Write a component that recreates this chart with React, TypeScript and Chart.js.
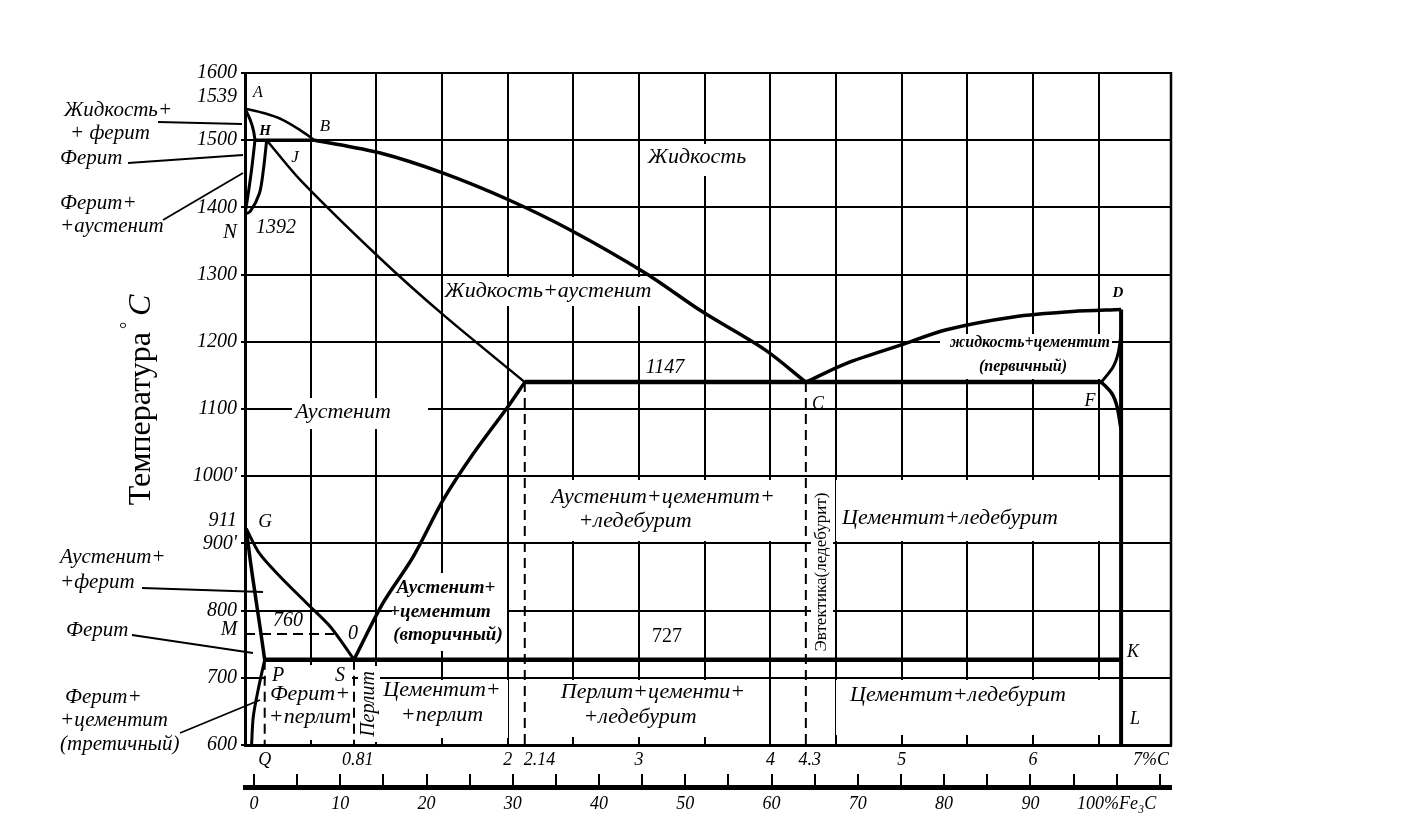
import React, { useEffect, useRef } from 'react';
import { Chart, registerables } from 'chart.js';

Chart.register(...registerables);

const SERIF = "'Liberation Serif', 'DejaVu Serif', 'Times New Roman', serif";

// ---------------- data: x = %C, y = °C ----------------
const liquidusAB = [{ x: 0, y: 1547 }, { x: 0.15, y: 1540 }, { x: 0.29, y: 1530 }, { x: 0.42, y: 1515 }, { x: 0.53, y: 1500 }];
const liquidusBC = [{ x: 0.53, y: 1500 }, { x: 1.03, y: 1481 }, { x: 1.51, y: 1451 }, { x: 2.01, y: 1411 }, { x: 2.48, y: 1366 }, { x: 3.05, y: 1302 }, { x: 3.48, y: 1245 }, { x: 3.96, y: 1188 }, { x: 4.27, y: 1140 }];
const liquidusCD = [{ x: 4.27, y: 1140 }, { x: 4.58, y: 1168 }, { x: 4.99, y: 1195 }, { x: 5.34, y: 1218 }, { x: 5.85, y: 1237 }, { x: 6.3, y: 1245 }, { x: 6.67, y: 1248 }];
const solidusAH = [{ x: 0, y: 1547 }, { x: 0.04, y: 1530 }, { x: 0.065, y: 1514 }, { x: 0.076, y: 1500 }];
const boundaryHN = [{ x: 0.076, y: 1500 }, { x: 0.05, y: 1456 }, { x: 0.025, y: 1421 }, { x: 0, y: 1390 }];
const boundaryJN = [{ x: 0.165, y: 1500 }, { x: 0.14, y: 1456 }, { x: 0.11, y: 1421 }, { x: 0.04, y: 1394 }, { x: 0, y: 1390 }];
const peritecticHJB = [{ x: 0.076, y: 1500 }, { x: 0.53, y: 1500 }];
const solidusJE = [{ x: 0.165, y: 1500 }, { x: 0.42, y: 1441 }, { x: 1.03, y: 1324 }, { x: 1.51, y: 1240 }, { x: 2.13, y: 1140 }];
const eutecticECF = [{ x: 2.13, y: 1140 }, { x: 6.52, y: 1140 }];
const curveFD = [{ x: 6.52, y: 1140 }, { x: 6.61, y: 1163 }, { x: 6.65, y: 1185 }, { x: 6.67, y: 1215 }];
const curveFdown = [{ x: 6.52, y: 1140 }, { x: 6.6, y: 1123 }, { x: 6.64, y: 1103 }, { x: 6.67, y: 1069 }];
const cementiteDL = [{ x: 6.67, y: 1248 }, { x: 6.67, y: 600 }];
const lineGS = [{ x: 0.01, y: 922 }, { x: 0.11, y: 885 }, { x: 0.27, y: 850 }, { x: 0.47, y: 811 }, { x: 0.65, y: 776 }, { x: 0.83, y: 727 }];
const lineGP = [{ x: 0.01, y: 922 }, { x: 0.04, y: 875 }, { x: 0.076, y: 826 }, { x: 0.114, y: 776 }, { x: 0.15, y: 727 }];
const linePQ = [{ x: 0.15, y: 727 }, { x: 0.1, y: 682 }, { x: 0.063, y: 642 }, { x: 0.05, y: 600 }];
const lineSE = [{ x: 0.83, y: 727 }, { x: 1.05, y: 811 }, { x: 1.28, y: 880 }, { x: 1.51, y: 965 }, { x: 1.74, y: 1034 }, { x: 2.0, y: 1103 }, { x: 2.13, y: 1140 }];
const eutectoidPSK = [{ x: 0.15, y: 727 }, { x: 6.67, y: 727 }];
const curieMO = [{ x: 0, y: 765 }, { x: 0.68, y: 765 }];
const dropP = [{ x: 0.15, y: 727 }, { x: 0.15, y: 600 }];
const dropS = [{ x: 0.83, y: 727 }, { x: 0.83, y: 600 }];
const dropE = [{ x: 2.13, y: 1140 }, { x: 2.13, y: 600 }];
const dropC = [{ x: 4.27, y: 1140 }, { x: 4.27, y: 600 }];

// ---------------- axes ----------------
const xGridValues = [0.5, 1, 1.5, 2, 2.5, 3, 3.5, 4, 4.5, 5, 5.5, 6, 6.5];
const xLabelValues = [0.15, 0.81, 2, 2.14, 3, 4, 4.3, 5, 6, 7];
const xLabelTexts = ['Q', '\u2002\u20090.81', '2', '\u2002\u2002\u20022.14', '3', '4', '4.3', '5', '6', '7%C\u2002\u2002\u2002'];
const yGridValues = [600, 700, 800, 900, 1000, 1100, 1200, 1300, 1400, 1500, 1600];
const yLabelValues = [600, 700, 800, 900, 933, 1000, 1100, 1200, 1300, 1400, 1500, 1564, 1600];
const yLabelTexts = ['600', '700', '800', "900'", '911', "1000'", '1100', '1200', '1300', '1400', '1500', '1539', '1600'];
const fe3cTicks = [0, 5, 10, 15, 20, 25, 30, 35, 40, 45, 50, 55, 60, 65, 70, 75, 80, 85, 90, 95, 100, 105];
const fe3cLabelValues = [0, 10, 20, 30, 40, 50, 60, 70, 80, 90, 100];
const fe3cLabelTexts = ['0', '10', '20', '30', '40', '50', '60', '70', '80', '90', '100%Fe₃C'];
const X_MAX = 7.05;
const FE3C_MIN = -1.04;
const FE3C_MAX = 106.3;

// ---------------- annotation layout (reference pixel frame -> data units) ----------------
const R = (px: number, py: number) => ({ x: (px - 245) / 131.35, y: 1600 - (py - 73) / 0.672 });

type Line = { s: string; p: { x: number; y: number } };
type Label = { lines: Line[]; box?: [number, number, number, number]; font?: string; rot?: boolean; align?: CanvasTextAlign };
const L = (s: string, px: number, py: number): Line => ({ s, p: R(px, py) });
const it = (n: number) => `italic ${n}px ${SERIF}`;

const regionLabels: Label[] = [
  { lines: [L('Жидкость', 697, 157)], box: [644, 144, 754, 176] },
  { lines: [L('Жидкость+аустенит', 548, 291)], box: [445, 277, 653, 306] },
  { lines: [L('1147', 665, 368)], font: it(20) },
  { lines: [L('Аустенит', 343, 412)], box: [292, 398, 428, 429] },
  { lines: [L('Аустенит+цементит+', 663, 497), L('+ледебурит', 635, 521)], box: [530, 480, 790, 541] },
  { lines: [L('Эвтектика(ледебурит)', 822, 572)], box: [811, 487, 833, 658], rot: true, font: `17px ${SERIF}` },
  { lines: [L('Цементит+ледебурит', 950, 518)], box: [836, 480, 1101, 541] },
  { lines: [L('жидкость+цементит', 1030, 343), L('(первичный)', 1023, 367)], box: [940, 334, 1112, 379], font: `bold italic 16px ${SERIF}` },
  { lines: [L('Аустенит+', 446, 588), L('+цементит', 440, 612), L('(вторичный)', 448, 635)], box: [392, 573, 507, 651], font: `bold italic 19px ${SERIF}` },
  { lines: [L('727', 667, 637)], font: `20px ${SERIF}` },
  { lines: [L('Перлит+цементи+', 653, 692), L('+ледебурит', 640, 717)], box: [530, 680, 766, 737] },
  { lines: [L('Цементит+ледебурит', 958, 695)], box: [836, 680, 1101, 735] },
  { lines: [L('Цементит+', 442, 690), L('+перлит', 442, 715)], box: [384, 680, 508, 738] },
  { lines: [L('Перлит', 369, 704)], box: [358, 666, 380, 742], rot: true, font: it(20) },
  { lines: [L('Ферит+', 310, 694), L('+перлит', 310, 717)], box: [266, 665, 352, 740] },
];

const pointLabels: Label[] = [
  { lines: [L('A', 258, 93)], font: it(16) },
  { lines: [L('H', 265, 131)], font: `bold italic 15px ${SERIF}` },
  { lines: [L('B', 325, 127)], font: it(17) },
  { lines: [L('J', 295, 158)], font: it(17) },
  { lines: [L('N', 230, 232)], font: it(21) },
  { lines: [L('1392', 276, 228)], font: it(20) },
  { lines: [L('D', 1118, 293)], font: `bold italic 15px ${SERIF}` },
  { lines: [L('C', 818, 404)], font: it(18) },
  { lines: [L('F', 1090, 401)], font: it(18) },
  { lines: [L('K', 1133, 652)], font: it(18) },
  { lines: [L('L', 1135, 719)], font: it(18) },
  { lines: [L('G', 265, 522)], font: it(19) },
  { lines: [L('M', 229, 630)], font: it(20) },
  { lines: [L('760', 288, 621)], font: it(20) },
  { lines: [L('0', 353, 634)], font: it(20) },
  { lines: [L('P', 278, 676)], font: it(20) },
  { lines: [L('S', 340, 676)], font: it(20) },
];

const sideLabels: Label[] = [
  { lines: [L('Жидкость+', 64, 110), L('+ ферит', 70, 133)], align: 'left' },
  { lines: [L('Ферит', 60, 158)], align: 'left' },
  { lines: [L('Ферит+', 60, 203), L('+аустенит', 60, 226)], align: 'left' },
  { lines: [L('Аустенит+', 60, 557), L('+ферит', 60, 582)], align: 'left' },
  { lines: [L('Ферит', 66, 630)], align: 'left' },
  { lines: [L('Ферит+', 65, 697), L('+цементит', 60, 720), L('(третичный)', 60, 744)], align: 'left' },
];
const leaders = [
  [R(158, 122), R(242, 124)],
  [R(128, 163), R(243, 155)],
  [R(163, 220), R(243, 173)],
  [R(142, 588), R(263, 592)],
  [R(132, 635), R(253, 653)],
  [R(180, 733), R(260, 700)],
];

const near = (arr: number[], v: number) => arr.findIndex((a) => Math.abs(a - v) < 1e-6);

const annotate = {
  id: 'annotate',
  beforeDatasetsDraw(chart: any) {
    const { ctx, scales } = chart;
    const xs = scales.x, ys = scales.y;
    ctx.save();
    ctx.fillStyle = '#fff';
    regionLabels.forEach((lb) => {
      if (!lb.box) return;
      const a = R(lb.box[0], lb.box[1]);
      const b = R(lb.box[2], lb.box[3]);
      const x1 = xs.getPixelForValue(a.x), y1 = ys.getPixelForValue(a.y);
      const x2 = xs.getPixelForValue(b.x), y2 = ys.getPixelForValue(b.y);
      ctx.fillRect(x1, y1, x2 - x1, y2 - y1);
    });
    ctx.restore();
  },
  afterDraw(chart: any) {
    const { ctx, scales, chartArea } = chart;
    const xs = scales.x, ys = scales.y;
    const draw = (lb: Label, defFont: string) => {
      ctx.font = lb.font || defFont;
      ctx.fillStyle = '#000';
      ctx.textAlign = lb.align || 'center';
      ctx.textBaseline = 'middle';
      lb.lines.forEach((ln) => {
        const x = xs.getPixelForValue(ln.p.x), y = ys.getPixelForValue(ln.p.y);
        if (lb.rot) {
          ctx.save();
          ctx.translate(x, y);
          ctx.rotate(-Math.PI / 2);
          ctx.fillText(ln.s, 0, 0);
          ctx.restore();
        } else {
          ctx.fillText(ln.s, x, y);
        }
      });
    };
    ctx.save();
    // right frame edge
    ctx.strokeStyle = '#000';
    ctx.lineWidth = 2.5;
    ctx.beginPath();
    ctx.moveTo(chartArea.right, chartArea.top - 1);
    ctx.lineTo(chartArea.right, chartArea.bottom + 1);
    ctx.stroke();
    regionLabels.forEach((lb) => draw(lb, it(22)));
    pointLabels.forEach((lb) => draw(lb, it(18)));
    sideLabels.forEach((lb) => draw(lb, it(21)));
    ctx.lineWidth = 1.8;
    leaders.forEach(([a, b]) => {
      ctx.beginPath();
      ctx.moveTo(xs.getPixelForValue(a.x), ys.getPixelForValue(a.y));
      ctx.lineTo(xs.getPixelForValue(b.x), ys.getPixelForValue(b.y));
      ctx.stroke();
    });
    // axis title
    const cx = chartArea.left - 106;
    const cy = (chartArea.top + chartArea.bottom) / 2 - 9;
    ctx.translate(cx, cy);
    ctx.rotate(-Math.PI / 2);
    ctx.textBaseline = 'alphabetic';
    ctx.textAlign = 'left';
    ctx.font = `32px ${SERIF}`;
    const t1 = 'Температура';
    const w1 = ctx.measureText(t1).width;
    ctx.font = `italic 32px ${SERIF}`;
    const wC = ctx.measureText('C').width;
    const total = w1 + 16 + wC;
    const sx = -total / 2;
    ctx.font = `32px ${SERIF}`;
    ctx.fillText(t1, sx, 11);
    ctx.font = `18px ${SERIF}`;
    ctx.fillText('°', sx + w1 + 3, -6);
    ctx.font = `italic 32px ${SERIF}`;
    ctx.fillText('C', sx + w1 + 16, 11);
    ctx.restore();
  },
};

export default function App() {
  const ref = useRef<HTMLCanvasElement | null>(null);
  useEffect(() => {
    document.body.style.margin = '0';
    const canvas = ref.current;
    if (!canvas) return;
    const ln = (data: any[], w = 3, tension = 0.3, dash: number[] = []) => ({
      data, borderColor: '#000', borderWidth: w, pointRadius: 0, showLine: true,
      tension, borderDash: dash, fill: false, borderCapStyle: 'butt',
    });
    const dashed = [10, 6];
    const chart = new Chart(canvas, {
      type: 'scatter',
      data: {
        datasets: [
          ln(liquidusAB, 2.5),
          ln(liquidusBC, 3.5),
          ln(liquidusCD, 3.5),
          ln(solidusAH, 3),
          ln(boundaryHN, 3),
          ln(boundaryJN, 3),
          ln(peritecticHJB, 3.5, 0),
          ln(solidusJE, 2.5),
          ln(eutecticECF, 4.5, 0),
          ln(curveFD, 3),
          ln(curveFdown, 3.5),
          ln(cementiteDL, 4, 0),
          ln(lineGS, 3),
          ln(lineGP, 3.5),
          ln(linePQ, 3),
          ln(lineSE, 3.5),
          ln(eutectoidPSK, 4.5, 0),
          ln(curieMO, 2, 0, dashed),
          ln(dropP, 2, 0, dashed),
          ln(dropS, 2, 0, dashed),
          ln(dropE, 2, 0, dashed),
          ln(dropC, 2, 0, dashed),
        ] as any,
      },
      options: {
        responsive: false,
        animation: false,
        devicePixelRatio: 1,
        events: [],
        layout: { padding: { left: 0, top: 73, right: 249, bottom: 0 } },
        plugins: { legend: { display: false }, tooltip: { enabled: false }, title: { display: false } },
        scales: {
          x: {
            type: 'linear', position: 'bottom', min: 0, max: X_MAX, weight: 0,
            afterBuildTicks: (s: any) => {
              const all = Array.from(new Set([...xGridValues, ...xLabelValues])).sort((a, b) => a - b);
              s.ticks = all.map((v) => ({ value: v }));
            },
            afterFit: (s: any) => { s.height = 42; },
            grid: {
              color: (c: any) => (c.tick && near(xGridValues, c.tick.value) >= 0 ? '#000' : 'rgba(0,0,0,0)'),
              lineWidth: 2, drawTicks: false,
            },
            border: { display: true, color: '#000', width: 3 },
            ticks: {
              autoSkip: false, maxRotation: 0, minRotation: 0, padding: 4, color: '#000',
              font: { family: SERIF, style: 'italic', size: 18 },
              callback: (v: any) => { const i = near(xLabelValues, Number(v)); return i >= 0 ? xLabelTexts[i] : ''; },
            },
          },
          x2: {
            type: 'linear', position: 'bottom', min: FE3C_MIN, max: FE3C_MAX, weight: 1,
            afterBuildTicks: (s: any) => { s.ticks = fe3cTicks.map((v) => ({ value: v })); },
            afterFit: (s: any) => { s.height = 50; },
            grid: { drawOnChartArea: false, color: '#000', lineWidth: 2, tickLength: -13 },
            border: { display: true, color: '#000', width: 5 },
            ticks: {
              autoSkip: false, maxRotation: 0, minRotation: 0, padding: 19, color: '#000',
              font: { family: SERIF, style: 'italic', size: 18 },
              callback: (v: any) => { const i = near(fe3cLabelValues, Number(v)); return i >= 0 ? fe3cLabelTexts[i] : ''; },
            },
          },
          y: {
            type: 'linear', position: 'left', min: 600, max: 1600,
            afterBuildTicks: (s: any) => { s.ticks = yLabelValues.map((v) => ({ value: v })); },
            afterFit: (s: any) => { s.width = 245; },
            grid: {
              color: (c: any) => (c.tick && near(yGridValues, c.tick.value) >= 0 ? '#000' : 'rgba(0,0,0,0)'),
              lineWidth: 2, tickLength: 4,
            },
            border: { display: true, color: '#000', width: 3 },
            ticks: {
              autoSkip: false, padding: 4, color: '#000',
              font: { family: SERIF, style: 'italic', size: 20 },
              callback: (v: any) => { const i = near(yLabelValues, Number(v)); return i >= 0 ? yLabelTexts[i] : ''; },
            },
          },
        },
      } as any,
      plugins: [annotate],
    });
    return () => chart.destroy();
  }, []);
  return (
    <div style={{ position: 'fixed', left: 0, top: 0, width: 1420, height: 837, background: '#fff' }}>
      <canvas ref={ref} width={1420} height={837} style={{ width: 1420, height: 837, display: 'block' }} />
    </div>
  );
}
